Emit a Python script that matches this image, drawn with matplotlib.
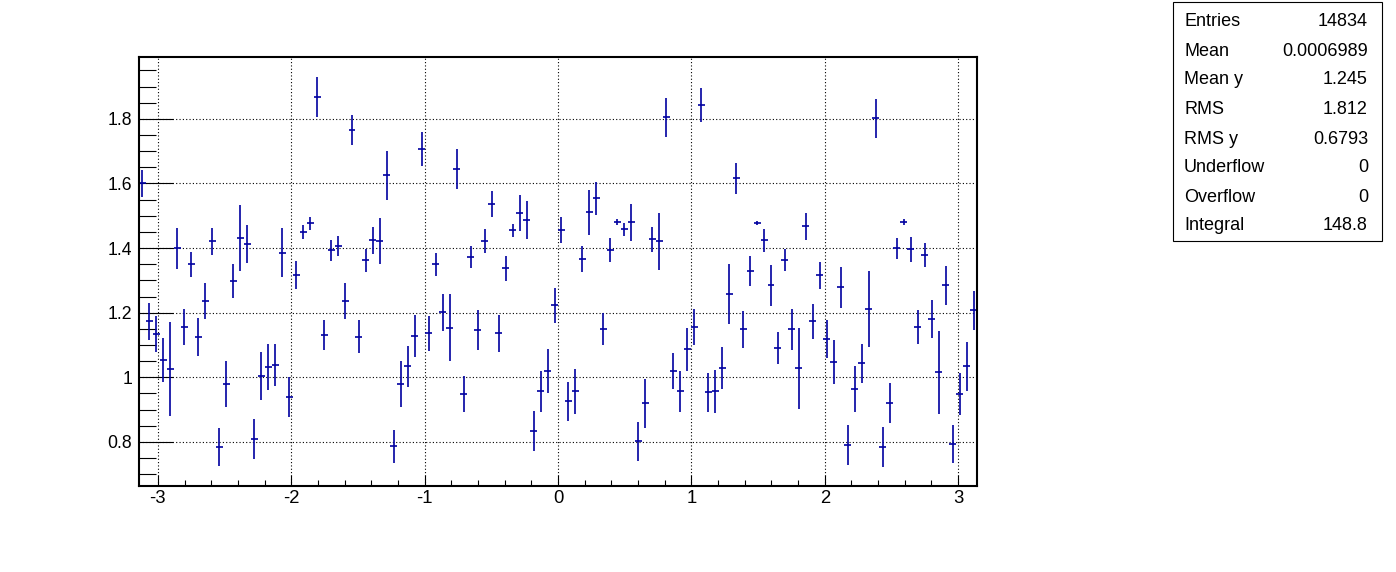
import numpy as np
import matplotlib
matplotlib.use("Agg")
import matplotlib.pyplot as plt
from matplotlib.ticker import MultipleLocator
from matplotlib.patches import Rectangle

plt.rcParams['font.family'] = ['Liberation Sans', 'DejaVu Sans']

# Profile: 120 bins in phi from -pi to pi
n_bins = 120
mean_y = [1.600, 1.174, 1.133, 1.054, 1.025, 1.399, 1.156, 1.350, 1.125, 1.236,
          1.421, 0.784, 0.979, 1.298, 1.431, 1.413, 0.809, 1.003, 1.032, 1.038,
          1.385, 0.939, 1.316, 1.450, 1.477, 1.867, 1.130, 1.393, 1.406, 1.236,
          1.765, 1.125, 1.362, 1.424, 1.421, 1.625, 0.786, 0.979, 1.034, 1.127,
          1.706, 1.136, 1.350, 1.201, 1.153, 1.645, 0.948, 1.373, 1.147, 1.421,
          1.536, 1.136, 1.337, 1.455, 1.508, 1.487, 0.834, 0.957, 1.019, 1.223,
          1.455, 0.926, 0.957, 1.365, 1.511, 1.554, 1.149, 1.393, 1.480, 1.458,
          1.480, 0.802, 0.920, 1.427, 1.421, 1.805, 1.019, 0.957, 1.087, 1.156,
          1.842, 0.954, 0.957, 1.028, 1.259, 1.616, 1.149, 1.328, 1.477, 1.424,
          1.285, 1.090, 1.362, 1.149, 1.028, 1.467, 1.173, 1.316, 1.118, 1.046,
          1.279, 0.790, 0.963, 1.043, 1.211, 1.802, 0.784, 0.920, 1.399, 1.480,
          1.396, 1.156, 1.378, 1.180, 1.015, 1.285, 0.794, 0.948, 1.034, 1.207]
err_y = [0.041, 0.057, 0.056, 0.068, 0.145, 0.064, 0.057, 0.038, 0.058, 0.057,
         0.041, 0.058, 0.072, 0.052, 0.101, 0.058, 0.062, 0.074, 0.072, 0.066,
         0.076, 0.063, 0.044, 0.021, 0.020, 0.062, 0.047, 0.032, 0.032, 0.057,
         0.047, 0.051, 0.035, 0.041, 0.071, 0.076, 0.051, 0.072, 0.063, 0.065,
         0.053, 0.055, 0.035, 0.057, 0.104, 0.061, 0.055, 0.035, 0.061, 0.037,
         0.041, 0.058, 0.038, 0.020, 0.055, 0.058, 0.061, 0.063, 0.069, 0.055,
         0.040, 0.061, 0.070, 0.040, 0.070, 0.052, 0.050, 0.037, 0.010, 0.020,
         0.057, 0.060, 0.076, 0.039, 0.088, 0.060, 0.056, 0.064, 0.066, 0.057,
         0.053, 0.060, 0.067, 0.065, 0.093, 0.048, 0.057, 0.046, 0.007, 0.035,
         0.063, 0.050, 0.034, 0.063, 0.126, 0.041, 0.054, 0.042, 0.058, 0.068,
         0.064, 0.061, 0.071, 0.060, 0.118, 0.061, 0.061, 0.062, 0.033, 0.009,
         0.038, 0.053, 0.038, 0.058, 0.128, 0.060, 0.058, 0.066, 0.075, 0.060]

stat_names = ["Entries", "Mean", "Mean y", "RMS", "RMS y", "Underflow", "Overflow", "Integral"]
stat_values = ["14834", "0.0006989", "1.245", "1.812", "0.6793", "0", "0", "148.8"]

edges = np.linspace(-np.pi, np.pi, n_bins + 1)
centers = 0.5 * (edges[:-1] + edges[1:])
half_w = 0.5 * np.diff(edges)

W, H = 1396, 572
fig = plt.figure(figsize=(W / 100, H / 100), dpi=100)
ax = fig.add_axes([139 / W, (H - 486) / H, 838 / W, 429 / H])

navy = "#0000a0"
ax.errorbar(centers, mean_y, yerr=err_y, xerr=half_w, fmt="none",
            ecolor=navy, elinewidth=1.2, capsize=0)

ax.set_xlim(-np.pi, np.pi)
ax.set_ylim(0.6635, 1.9916)

ax.xaxis.set_major_locator(MultipleLocator(1))
ax.xaxis.set_minor_locator(MultipleLocator(0.2))
ax.yaxis.set_major_locator(MultipleLocator(0.2))
ax.yaxis.set_minor_locator(MultipleLocator(0.05))
ax.yaxis.set_major_formatter(plt.FuncFormatter(lambda v, p: f"{v:g}"))
ax.xaxis.set_major_formatter(plt.FuncFormatter(lambda v, p: f"{v:g}"))

ax.tick_params(axis="y", which="major", direction="in", length=24.5, width=0.8,
               labelsize=12.7, pad=5, right=False)
ax.tick_params(axis="y", which="minor", direction="in", length=12.2, width=0.8, right=False)
ax.tick_params(axis="x", which="major", direction="in", length=8, width=0.8,
               labelsize=13.3, pad=3, top=False)
ax.tick_params(axis="x", which="minor", direction="in", length=4, width=0.8, top=False)

ax.grid(True, which="major", color="black", linestyle=(0, (1, 2)), linewidth=0.8)
ax.set_axisbelow(True)
for s in ax.spines.values():
    s.set_linewidth(1.5)

# statistics box
fig.patches.append(Rectangle((1173 / W, 1 - 241 / H), 209 / W, 239 / H,
                             transform=fig.transFigure, fill=False,
                             edgecolor="black", linewidth=0.8))
row_y = [22, 51, 80, 110, 139, 168, 198, 226]
for name, val, ry in zip(stat_names, stat_values, row_y):
    fig.text(1184 / W, 1 - ry / H, name, ha="left", va="center", fontsize=13)
    fig.text(1368 / W, 1 - ry / H, val, ha="right", va="center", fontsize=13)

fig.savefig("out.png", dpi=100)
